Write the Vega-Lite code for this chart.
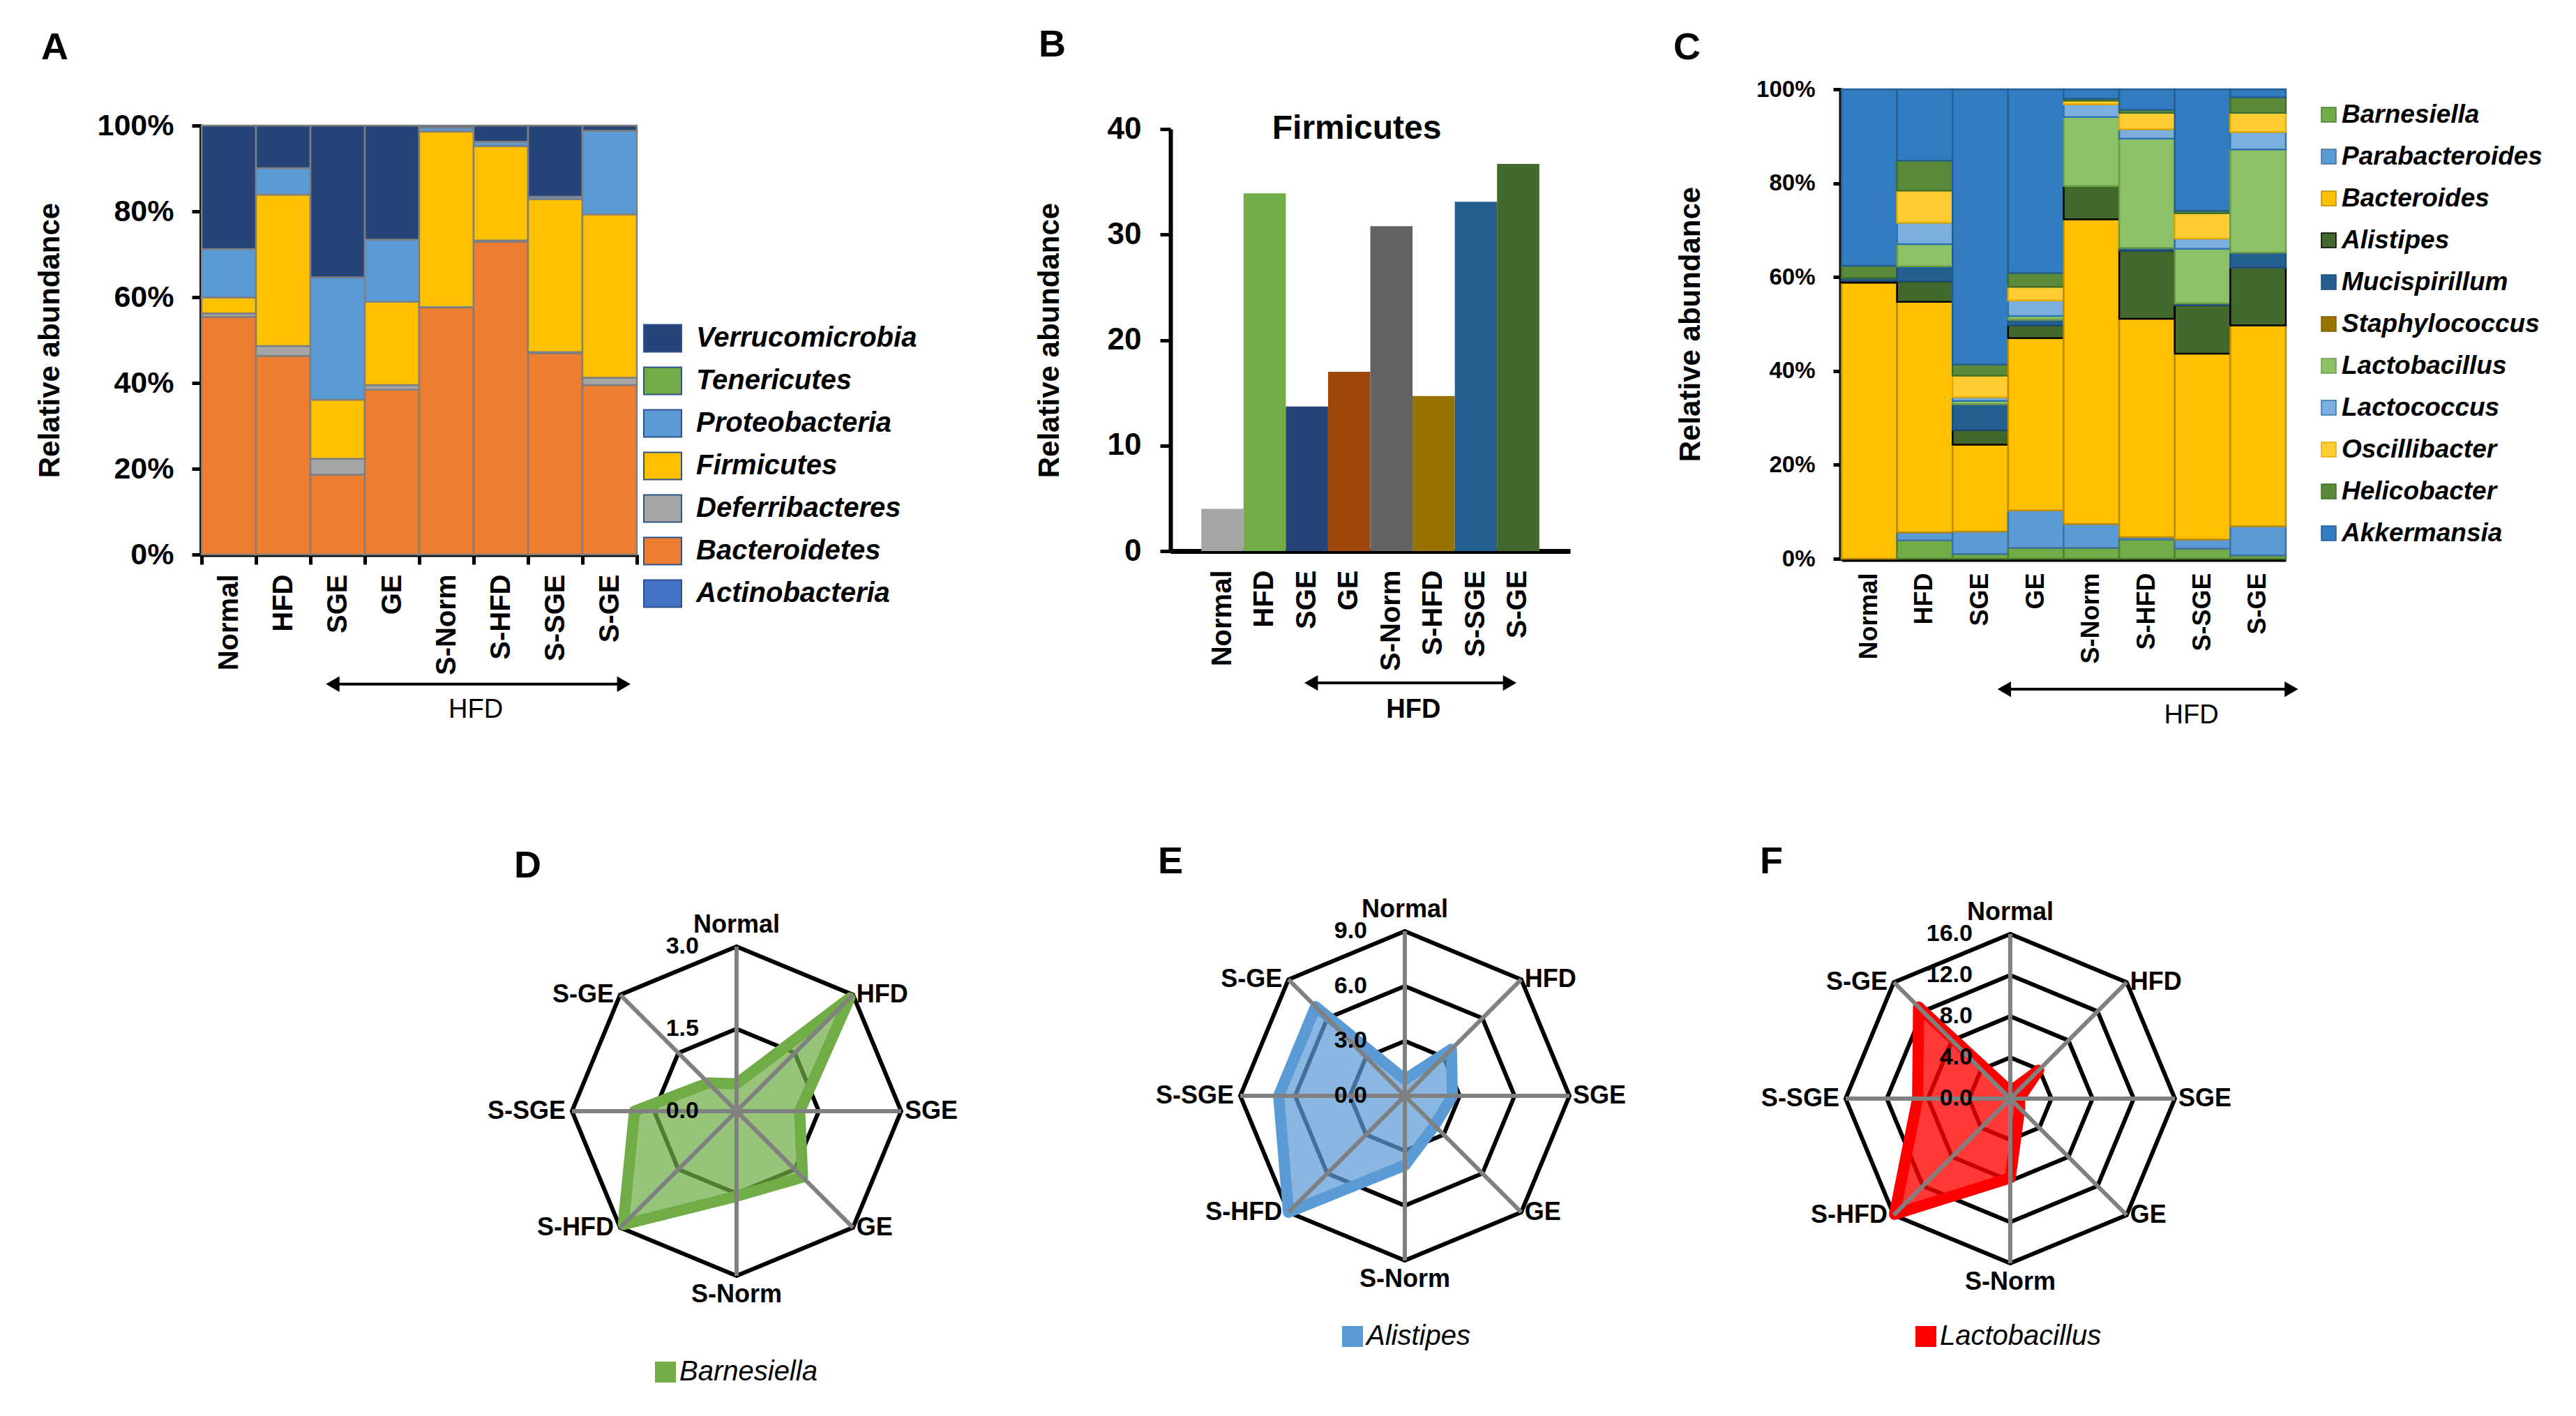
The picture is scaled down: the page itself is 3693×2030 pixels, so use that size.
{
"$schema": "https://vega.github.io/schema/vega-lite/v6.json",
"background": "white",
"padding": {"left": 50, "top": 38, "right": 0, "bottom": 0},
"config": {
  "view": {"stroke": null},
  "font": "Liberation Sans",
  "axis": {"grid": false, "domainColor": "black", "tickColor": "black", "labelColor": "black", "titleColor": "black"},
  "legend": {"labelColor": "black", "labelLimit": 800},
  "title": {"color": "black", "fontWeight": "bold"}
},
"datasets": {
  "phylum": [
    {"group":"Normal","taxon":"Bacteroidetes","value":55.4},{"group":"Normal","taxon":"Deferribacteres","value":0.8},{"group":"Normal","taxon":"Firmicutes","value":3.7},{"group":"Normal","taxon":"Proteobacteria","value":11.3},{"group":"Normal","taxon":"Verrucomicrobia","value":28.8},
    {"group":"HFD","taxon":"Bacteroidetes","value":46.3},{"group":"HFD","taxon":"Deferribacteres","value":2.3},{"group":"HFD","taxon":"Firmicutes","value":35.3},{"group":"HFD","taxon":"Proteobacteria","value":6.2},{"group":"HFD","taxon":"Verrucomicrobia","value":9.9},
    {"group":"SGE","taxon":"Bacteroidetes","value":18.6},{"group":"SGE","taxon":"Deferribacteres","value":3.7},{"group":"SGE","taxon":"Firmicutes","value":13.8},{"group":"SGE","taxon":"Proteobacteria","value":28.5},{"group":"SGE","taxon":"Verrucomicrobia","value":35.4},
    {"group":"GE","taxon":"Bacteroidetes","value":38.4},{"group":"GE","taxon":"Deferribacteres","value":1.1},{"group":"GE","taxon":"Firmicutes","value":19.4},{"group":"GE","taxon":"Proteobacteria","value":14.5},{"group":"GE","taxon":"Verrucomicrobia","value":26.6},
    {"group":"S-Norm","taxon":"Bacteroidetes","value":57.6},{"group":"S-Norm","taxon":"Deferribacteres","value":0.1},{"group":"S-Norm","taxon":"Firmicutes","value":40.9},{"group":"S-Norm","taxon":"Proteobacteria","value":0.9},{"group":"S-Norm","taxon":"Verrucomicrobia","value":0.5},
    {"group":"S-HFD","taxon":"Bacteroidetes","value":72.9},{"group":"S-HFD","taxon":"Deferribacteres","value":0.3},{"group":"S-HFD","taxon":"Firmicutes","value":22.0},{"group":"S-HFD","taxon":"Proteobacteria","value":1.0},{"group":"S-HFD","taxon":"Verrucomicrobia","value":3.8},
    {"group":"S-SGE","taxon":"Bacteroidetes","value":46.9},{"group":"S-SGE","taxon":"Deferribacteres","value":0.3},{"group":"S-SGE","taxon":"Firmicutes","value":35.6},{"group":"S-SGE","taxon":"Proteobacteria","value":0.6},{"group":"S-SGE","taxon":"Verrucomicrobia","value":16.6},
    {"group":"S-GE","taxon":"Bacteroidetes","value":39.5},{"group":"S-GE","taxon":"Deferribacteres","value":1.7},{"group":"S-GE","taxon":"Firmicutes","value":38.1},{"group":"S-GE","taxon":"Proteobacteria","value":19.5},{"group":"S-GE","taxon":"Verrucomicrobia","value":1.2}
  ],
  "firm": [
    {"group":"Normal","value":4.0},{"group":"HFD","value":33.9},{"group":"SGE","value":13.7},{"group":"GE","value":17.0},
    {"group":"S-Norm","value":30.8},{"group":"S-HFD","value":14.7},{"group":"S-SGE","value":33.1},{"group":"S-GE","value":36.7}
  ],
  "genus": [
    {"group":"Normal","taxon":"Bacteroides","value":58.8},{"group":"Normal","taxon":"Alistipes","value":0.4},{"group":"Normal","taxon":"Mucispirillum","value":0.6},{"group":"Normal","taxon":"Helicobacter","value":2.6},{"group":"Normal","taxon":"Akkermansia","value":37.6},
    {"group":"HFD","taxon":"Barnesiella","value":3.9},{"group":"HFD","taxon":"Parabacteroides","value":1.7},{"group":"HFD","taxon":"Bacteroides","value":49.1},{"group":"HFD","taxon":"Alistipes","value":4.4},{"group":"HFD","taxon":"Mucispirillum","value":3.2},{"group":"HFD","taxon":"Lactobacillus","value":4.7},{"group":"HFD","taxon":"Lactococcus","value":4.6},{"group":"HFD","taxon":"Oscillibacter","value":6.8},{"group":"HFD","taxon":"Helicobacter","value":6.4},{"group":"HFD","taxon":"Akkermansia","value":15.2},
    {"group":"SGE","taxon":"Barnesiella","value":1.0},{"group":"SGE","taxon":"Parabacteroides","value":4.8},{"group":"SGE","taxon":"Bacteroides","value":18.5},{"group":"SGE","taxon":"Alistipes","value":3.1},{"group":"SGE","taxon":"Mucispirillum","value":5.5},{"group":"SGE","taxon":"Lactobacillus","value":0.7},{"group":"SGE","taxon":"Lactococcus","value":0.8},{"group":"SGE","taxon":"Oscillibacter","value":4.6},{"group":"SGE","taxon":"Helicobacter","value":2.4},{"group":"SGE","taxon":"Akkermansia","value":58.6},
    {"group":"GE","taxon":"Barnesiella","value":2.3},{"group":"GE","taxon":"Parabacteroides","value":8.0},{"group":"GE","taxon":"Bacteroides","value":36.7},{"group":"GE","taxon":"Alistipes","value":2.7},{"group":"GE","taxon":"Mucispirillum","value":1.2},{"group":"GE","taxon":"Lactobacillus","value":0.8},{"group":"GE","taxon":"Lactococcus","value":3.3},{"group":"GE","taxon":"Oscillibacter","value":2.9},{"group":"GE","taxon":"Helicobacter","value":3.0},{"group":"GE","taxon":"Akkermansia","value":39.1},
    {"group":"S-Norm","taxon":"Barnesiella","value":2.3},{"group":"S-Norm","taxon":"Parabacteroides","value":5.1},{"group":"S-Norm","taxon":"Bacteroides","value":64.9},{"group":"S-Norm","taxon":"Alistipes","value":7.1},{"group":"S-Norm","taxon":"Lactobacillus","value":14.7},{"group":"S-Norm","taxon":"Lactococcus","value":2.7},{"group":"S-Norm","taxon":"Oscillibacter","value":0.8},{"group":"S-Norm","taxon":"Helicobacter","value":0.4},{"group":"S-Norm","taxon":"Akkermansia","value":2.0},
    {"group":"S-HFD","taxon":"Barnesiella","value":4.1},{"group":"S-HFD","taxon":"Parabacteroides","value":0.5},{"group":"S-HFD","taxon":"Bacteroides","value":46.5},{"group":"S-HFD","taxon":"Alistipes","value":14.5},{"group":"S-HFD","taxon":"Mucispirillum","value":0.6},{"group":"S-HFD","taxon":"Lactobacillus","value":23.3},{"group":"S-HFD","taxon":"Lactococcus","value":2.0},{"group":"S-HFD","taxon":"Oscillibacter","value":3.5},{"group":"S-HFD","taxon":"Helicobacter","value":0.6},{"group":"S-HFD","taxon":"Akkermansia","value":4.4},
    {"group":"S-SGE","taxon":"Barnesiella","value":2.1},{"group":"S-SGE","taxon":"Parabacteroides","value":2.0},{"group":"S-SGE","taxon":"Bacteroides","value":39.6},{"group":"S-SGE","taxon":"Alistipes","value":10.3},{"group":"S-SGE","taxon":"Mucispirillum","value":0.4},{"group":"S-SGE","taxon":"Lactobacillus","value":11.6},{"group":"S-SGE","taxon":"Lactococcus","value":2.2},{"group":"S-SGE","taxon":"Oscillibacter","value":5.4},{"group":"S-SGE","taxon":"Helicobacter","value":0.5},{"group":"S-SGE","taxon":"Akkermansia","value":25.9},
    {"group":"S-GE","taxon":"Barnesiella","value":0.7},{"group":"S-GE","taxon":"Parabacteroides","value":6.2},{"group":"S-GE","taxon":"Bacteroides","value":42.8},{"group":"S-GE","taxon":"Alistipes","value":12.3},{"group":"S-GE","taxon":"Mucispirillum","value":3.2},{"group":"S-GE","taxon":"Lactobacillus","value":22.0},{"group":"S-GE","taxon":"Lactococcus","value":3.7},{"group":"S-GE","taxon":"Oscillibacter","value":4.1},{"group":"S-GE","taxon":"Helicobacter","value":3.3},{"group":"S-GE","taxon":"Akkermansia","value":1.7}
  ],
  "barn": [
    {"taxon":"Barnesiella","group":"Normal","value":0.5},{"taxon":"Barnesiella","group":"HFD","value":2.92},{"taxon":"Barnesiella","group":"SGE","value":1.15},{"taxon":"Barnesiella","group":"GE","value":1.7},
    {"taxon":"Barnesiella","group":"S-Norm","value":1.55},{"taxon":"Barnesiella","group":"S-HFD","value":2.92},{"taxon":"Barnesiella","group":"S-SGE","value":1.86},{"taxon":"Barnesiella","group":"S-GE","value":0.73}
  ],
  "alis": [
    {"taxon":"Alistipes","group":"Normal","value":0.9},{"taxon":"Alistipes","group":"HFD","value":3.6},{"taxon":"Alistipes","group":"SGE","value":2.6},{"taxon":"Alistipes","group":"GE","value":2.3},
    {"taxon":"Alistipes","group":"S-Norm","value":3.8},{"taxon":"Alistipes","group":"S-HFD","value":9.0},{"taxon":"Alistipes","group":"S-SGE","value":6.9},{"taxon":"Alistipes","group":"S-GE","value":6.9}
  ],
  "lacto": [
    {"taxon":"Lactobacillus","group":"Normal","value":0.7},{"taxon":"Lactobacillus","group":"HFD","value":3.9},{"taxon":"Lactobacillus","group":"SGE","value":0.9},{"taxon":"Lactobacillus","group":"GE","value":1.3},
    {"taxon":"Lactobacillus","group":"S-Norm","value":7.7},{"taxon":"Lactobacillus","group":"S-HFD","value":15.9},{"taxon":"Lactobacillus","group":"S-SGE","value":9.0},{"taxon":"Lactobacillus","group":"S-GE","value":12.6}
  ],
  "hfd": [{"from":"SGE","to":"S-GE","mid":"S-HFD","mid2":"S-SGE","label":"HFD"}],
  "btitle": [{"at":"GE","label":"Firmicutes"}]
},
"resolve": {"scale": {"color": "independent", "stroke": "independent"}},
"columns": 3,
"align": "each",
"bounds": "flush",
"spacing": {"row": 400, "column": 0},
"concat": [
  {
   "width": 1389, "height": 673,
   "title": {"text": "A", "anchor": "start", "frame": "group", "fontSize": 54, "baseline": "alphabetic", "offset": 0, "dy": 11, "dx": -230},
   "layer": [
    {"data": {"name": "phylum"},
     "transform": [{"calculate": "indexof(['Actinobacteria','Bacteroidetes','Deferribacteres','Firmicutes','Proteobacteria','Tenericutes','Verrucomicrobia'], datum.taxon)", "as": "ord"}],
     "mark": {"type": "bar", "stroke": "#7F7F7F", "strokeWidth": 2.5},
     "encoding": {
      "x": {"field": "group", "type": "nominal", "scale": {"domain": ["Normal","HFD","SGE","GE","S-Norm","S-HFD","S-SGE","S-GE"], "range": [0, 624], "paddingInner": 0, "paddingOuter": 0},
            "axis": {"title": null, "labelAngle": -90, "labelAlign": "right", "labelBaseline": "middle", "labelFontSize": 40, "labelFontWeight": "bold", "labelPadding": 14, "tickBand": "extent", "tickSize": 14, "tickWidth": 5, "domainWidth": 6, "offset": -6, "labelOverlap": false}},
      "y": {"field": "value", "type": "quantitative", "stack": "normalize", "scale": {"domain": [0, 1], "range": [667, 52], "nice": false},
            "axis": {"values": [0, 0.2, 0.4, 0.6, 0.8, 1], "format": ".0%", "labelFontSize": 43, "labelFontWeight": "bold", "labelPadding": 26, "tickSize": 14, "tickWidth": 5, "domainWidth": 7, "title": "Relative abundance", "titleFontSize": 42, "titleFontWeight": "bold", "titlePadding": 46}},
      "color": {"field": "taxon", "type": "nominal",
                "scale": {"domain": ["Verrucomicrobia","Tenericutes","Proteobacteria","Firmicutes","Deferribacteres","Bacteroidetes","Actinobacteria"], "range": ["#264478","#70AD47","#5B9BD5","#FFC000","#A5A5A5","#ED7D31","#4472C4"]},
                "legend": {"orient": "none", "legendX": 633, "legendY": 329, "title": null, "padding": 0, "symbolType": "M-1,-0.72H1V0.72H-1Z", "symbolSize": 2916, "symbolStrokeColor": "#2F528F", "symbolStrokeWidth": 2, "labelFontSize": 40, "labelFontStyle": "italic", "labelFontWeight": "bold", "labelOffset": 20, "rowPadding": 9, "labelLimit": 800}},
      "order": {"field": "ord", "type": "quantitative"}
     }},
    {"data": {"name": "hfd"},
     "mark": {"type": "rule", "color": "black", "strokeWidth": 4},
     "encoding": {
      "x": {"field": "from", "type": "nominal", "bandPosition": 0.41, "scale": {"domain": ["Normal","HFD","SGE","GE","S-Norm","S-HFD","S-SGE","S-GE"], "range": [0, 624]}},
      "x2": {"field": "to", "bandPosition": 0.76},
      "y": {"datum": -0.302, "type": "quantitative", "scale": {"domain": [0, 1], "range": [667, 52], "nice": false}}
     }},
    {"data": {"name": "hfd"},
     "mark": {"type": "point", "shape": "triangle-left", "filled": true, "color": "black", "size": 500, "opacity": 1},
     "encoding": {
      "x": {"field": "from", "type": "nominal", "bandPosition": 0.41, "scale": {"domain": ["Normal","HFD","SGE","GE","S-Norm","S-HFD","S-SGE","S-GE"], "range": [0, 624]}},
      "y": {"datum": -0.302, "type": "quantitative", "scale": {"domain": [0, 1], "range": [667, 52], "nice": false}}
     }},
    {"data": {"name": "hfd"},
     "mark": {"type": "point", "shape": "triangle-right", "filled": true, "color": "black", "size": 500, "opacity": 1},
     "encoding": {
      "x": {"field": "to", "type": "nominal", "bandPosition": 0.76, "scale": {"domain": ["Normal","HFD","SGE","GE","S-Norm","S-HFD","S-SGE","S-GE"], "range": [0, 624]}},
      "y": {"datum": -0.302, "type": "quantitative", "scale": {"domain": [0, 1], "range": [667, 52], "nice": false}}
     }},
    {"data": {"name": "hfd"},
     "mark": {"type": "text", "fontSize": 38, "baseline": "middle", "align": "center"},
     "encoding": {
      "x": {"field": "mid", "type": "nominal", "bandPosition": 0.04, "scale": {"domain": ["Normal","HFD","SGE","GE","S-Norm","S-HFD","S-SGE","S-GE"], "range": [0, 624]}},
      "y": {"datum": -0.363, "type": "quantitative", "scale": {"domain": [0, 1], "range": [667, 52], "nice": false}},
      "text": {"field": "label"}
     }}
   ]
  },
  {
   "width": 962, "height": 673,
   "title": {"text": "B", "anchor": "start", "frame": "group", "fontSize": 54, "baseline": "alphabetic", "offset": 0, "dy": 7, "dx": -189},
   "layer": [
    {"data": {"name": "firm"},
     "mark": {"type": "bar"},
     "encoding": {
      "x": {"field": "group", "type": "nominal", "scale": {"domain": ["Normal","HFD","SGE","GE","S-Norm","S-HFD","S-SGE","S-GE"], "range": [0, 573], "paddingInner": 0, "paddingOuter": 0.73},
            "axis": {"title": null, "labelAngle": -90, "labelAlign": "right", "labelBaseline": "middle", "labelFontSize": 40, "labelFontWeight": "bold", "labelPadding": 27, "ticks": false, "domainWidth": 7, "offset": -11, "labelOverlap": false}},
      "y": {"field": "value", "type": "quantitative", "scale": {"domain": [0, 40], "range": [662, 57], "nice": false},
            "axis": {"values": [0, 10, 20, 30, 40], "labelFontSize": 44, "labelFontWeight": "bold", "labelPadding": 27, "tickSize": 15, "tickWidth": 5, "domainWidth": 6, "title": "Relative abundance", "titleFontSize": 42, "titleFontWeight": "bold", "titlePadding": 61}},
      "color": {"field": "group", "type": "nominal", "scale": {"domain": ["Normal","HFD","SGE","GE","S-Norm","S-HFD","S-SGE","S-GE"], "range": ["#A5A5A5","#70AD47","#264478","#9E480E","#636363","#997300","#255E91","#43682B"]}, "legend": null}
     }},
    {"data": {"name": "btitle"},
     "mark": {"type": "text", "fontSize": 48, "fontWeight": "bold", "baseline": "middle", "align": "center"},
     "encoding": {
      "x": {"field": "at", "type": "nominal", "bandPosition": 0.68, "scale": {"domain": ["Normal","HFD","SGE","GE","S-Norm","S-HFD","S-SGE","S-GE"], "range": [0, 573]}},
      "y": {"datum": 40, "type": "quantitative", "scale": {"domain": [0, 40], "range": [662, 57], "nice": false}},
      "text": {"field": "label"}
     }},
    {"data": {"name": "hfd"},
     "mark": {"type": "rule", "color": "black", "strokeWidth": 4},
     "encoding": {
      "x": {"field": "from", "type": "nominal", "bandPosition": 0.6, "scale": {"domain": ["Normal","HFD","SGE","GE","S-Norm","S-HFD","S-SGE","S-GE"], "range": [0, 573]}},
      "x2": {"field": "to", "bandPosition": 0.3},
      "y": {"datum": -12.5, "type": "quantitative", "scale": {"domain": [0, 40], "range": [662, 57], "nice": false}}
     }},
    {"data": {"name": "hfd"},
     "mark": {"type": "point", "shape": "triangle-left", "filled": true, "color": "black", "size": 500, "opacity": 1},
     "encoding": {
      "x": {"field": "from", "type": "nominal", "bandPosition": 0.6, "scale": {"domain": ["Normal","HFD","SGE","GE","S-Norm","S-HFD","S-SGE","S-GE"], "range": [0, 573]}},
      "y": {"datum": -12.5, "type": "quantitative", "scale": {"domain": [0, 40], "range": [662, 57], "nice": false}}
     }},
    {"data": {"name": "hfd"},
     "mark": {"type": "point", "shape": "triangle-right", "filled": true, "color": "black", "size": 500, "opacity": 1},
     "encoding": {
      "x": {"field": "to", "type": "nominal", "bandPosition": 0.3, "scale": {"domain": ["Normal","HFD","SGE","GE","S-Norm","S-HFD","S-SGE","S-GE"], "range": [0, 573]}},
      "y": {"datum": -12.5, "type": "quantitative", "scale": {"domain": [0, 40], "range": [662, 57], "nice": false}}
     }},
    {"data": {"name": "hfd"},
     "mark": {"type": "text", "fontSize": 38, "fontWeight": "bold", "baseline": "middle", "align": "center"},
     "encoding": {
      "x": {"field": "mid", "type": "nominal", "bandPosition": 0.02, "scale": {"domain": ["Normal","HFD","SGE","GE","S-Norm","S-HFD","S-SGE","S-GE"], "range": [0, 573]}},
      "y": {"datum": -15.1, "type": "quantitative", "scale": {"domain": [0, 40], "range": [662, 57], "nice": false}},
      "text": {"field": "label"}
     }}
   ]
  },
  {
   "width": 637, "height": 673,
   "title": {"text": "C", "anchor": "start", "frame": "group", "fontSize": 54, "baseline": "alphabetic", "offset": 0, "dy": 27, "dx": -241},
   "layer": [
    {"data": {"name": "genus"},
     "transform": [{"calculate": "indexof(['Barnesiella','Parabacteroides','Bacteroides','Alistipes','Mucispirillum','Staphylococcus','Lactobacillus','Lactococcus','Oscillibacter','Helicobacter','Akkermansia'], datum.taxon)", "as": "ord"}],
     "mark": {"type": "bar", "strokeWidth": 2.5},
     "encoding": {
      "x": {"field": "group", "type": "nominal", "scale": {"domain": ["Normal","HFD","SGE","GE","S-Norm","S-HFD","S-SGE","S-GE"], "paddingInner": 0, "paddingOuter": 0},
            "axis": {"title": null, "labelAngle": -90, "labelAlign": "right", "labelBaseline": "middle", "labelFontSize": 36, "labelFontWeight": "bold", "labelPadding": 20, "ticks": false, "domainWidth": 8, "labelOverlap": false}},
      "y": {"field": "value", "type": "quantitative", "stack": "normalize", "scale": {"domain": [0, 1], "nice": false},
            "axis": {"values": [0, 0.2, 0.4, 0.6, 0.8, 1], "format": ".0%", "labelFontSize": 33, "labelFontWeight": "bold", "labelPadding": 26, "tickSize": 12, "tickWidth": 5, "domainWidth": 8, "title": "Relative abundance", "titleFontSize": 42, "titleFontWeight": "bold", "titlePadding": 72}},
      "color": {"field": "taxon", "type": "nominal",
                "scale": {"domain": ["Barnesiella","Parabacteroides","Bacteroides","Alistipes","Mucispirillum","Staphylococcus","Lactobacillus","Lactococcus","Oscillibacter","Helicobacter","Akkermansia"],
                          "range": ["#70AD47","#5B9BD5","#FFC000","#43682B","#255E91","#997300","#8CC168","#7CAFDD","#FFCD33","#5B8A3A","#327DC2"]},
                "legend": {"orient": "none", "legendX": 680, "legendY": 18, "title": null, "padding": 0, "symbolType": "square", "symbolSize": 441, "symbolStrokeColor": "#404040", "symbolStrokeWidth": 1.5, "labelFontSize": 37, "labelFontStyle": "italic", "labelFontWeight": "bold", "labelOffset": 0, "rowPadding": 22, "labelLimit": 800}},
      "stroke": {"field": "taxon", "type": "nominal",
                 "scale": {"domain": ["Barnesiella","Parabacteroides","Bacteroides","Alistipes","Mucispirillum","Staphylococcus","Lactobacillus","Lactococcus","Oscillibacter","Helicobacter","Akkermansia"],
                           "range": ["#507E32","#41719C","#BC8C00","#000000","#1F4E79","#7F6000","#6A9B4A","#2E75B6","#E6AC00","#3F6F2A","#255E91"]},
                 "legend": null},
      "order": {"field": "ord", "type": "quantitative"}
     }},
    {"data": {"name": "hfd"},
     "mark": {"type": "rule", "color": "black", "strokeWidth": 4},
     "encoding": {
      "x": {"field": "from", "type": "nominal", "bandPosition": 0.93, "scale": {"domain": ["Normal","HFD","SGE","GE","S-Norm","S-HFD","S-SGE","S-GE"]}},
      "x2": {"field": "to", "bandPosition": 1.1},
      "y": {"datum": -0.278, "type": "quantitative", "scale": {"domain": [0, 1], "nice": false}}
     }},
    {"data": {"name": "hfd"},
     "mark": {"type": "point", "shape": "triangle-left", "filled": true, "color": "black", "size": 500, "opacity": 1},
     "encoding": {
      "x": {"field": "from", "type": "nominal", "bandPosition": 0.93, "scale": {"domain": ["Normal","HFD","SGE","GE","S-Norm","S-HFD","S-SGE","S-GE"]}},
      "y": {"datum": -0.278, "type": "quantitative", "scale": {"domain": [0, 1], "nice": false}}
     }},
    {"data": {"name": "hfd"},
     "mark": {"type": "point", "shape": "triangle-right", "filled": true, "color": "black", "size": 500, "opacity": 1},
     "encoding": {
      "x": {"field": "to", "type": "nominal", "bandPosition": 1.1, "scale": {"domain": ["Normal","HFD","SGE","GE","S-Norm","S-HFD","S-SGE","S-GE"]}},
      "y": {"datum": -0.278, "type": "quantitative", "scale": {"domain": [0, 1], "nice": false}}
     }},
    {"data": {"name": "hfd"},
     "mark": {"type": "text", "fontSize": 38, "baseline": "middle", "align": "center"},
     "encoding": {
      "x": {"field": "mid2", "type": "nominal", "bandPosition": 0.3, "scale": {"domain": ["Normal","HFD","SGE","GE","S-Norm","S-HFD","S-SGE","S-GE"]}},
      "y": {"datum": -0.334, "type": "quantitative", "scale": {"domain": [0, 1], "nice": false}},
      "text": {"field": "label"}
     }}
   ]
  },
  {
   "width": 1389, "height": 708,
   "title": {"text": "D", "anchor": "start", "frame": "group", "fontSize": 54, "baseline": "alphabetic", "offset": 0, "dy": 111, "dx": 448},
   "encoding": {
    "x": {"field": "px", "type": "quantitative", "scale": {"domain": [-3.25, 2.636], "nice": false, "zero": false}, "axis": null},
    "y": {"field": "py", "type": "quantitative", "scale": {"domain": [-1.339, 1.661], "nice": false, "zero": false}, "axis": null}
   },
   "layer": [
    {"data": {"name": "barn"},
     "transform": [{"calculate": "indexof(['Normal','HFD','SGE','GE','S-Norm','S-HFD','S-SGE','S-GE'], datum.group)", "as": "k"}, {"calculate": "[0.5, 1]", "as": "lv"}, {"flatten": ["lv"]}, {"calculate": "datum.lv * sin(datum.k * PI / 4)", "as": "px"}, {"calculate": "datum.lv * cos(datum.k * PI / 4)", "as": "py"}],
     "mark": {"type": "line", "interpolate": "linear-closed", "color": "black", "strokeWidth": 6},
     "encoding": {"detail": {"field": "lv", "type": "nominal"}, "order": {"field": "k", "type": "quantitative"}}},
    {"data": {"name": "barn"},
     "transform": [{"calculate": "indexof(['Normal','HFD','SGE','GE','S-Norm','S-HFD','S-SGE','S-GE'], datum.group)", "as": "k"}, {"calculate": "datum.value / 3 * sin(datum.k * PI / 4)", "as": "px"}, {"calculate": "datum.value / 3 * cos(datum.k * PI / 4)", "as": "py"}],
     "mark": {"type": "line", "interpolate": "linear-closed", "filled": true, "fillOpacity": 0.72},
     "encoding": {"order": {"field": "k", "type": "quantitative"},
      "color": {"field": "taxon", "type": "nominal", "scale": {"range": ["#70AD47"]},
       "legend": {"orient": "none", "legendX": 645, "legendY": 746, "title": null, "padding": 0, "symbolType": "square", "symbolSize": 900, "symbolOpacity": 1, "symbolStrokeWidth": 0, "labelFontSize": 40, "labelFontStyle": "italic", "labelOffset": 0, "labelLimit": 800}}}},
    {"data": {"name": "barn"},
     "transform": [{"calculate": "indexof(['Normal','HFD','SGE','GE','S-Norm','S-HFD','S-SGE','S-GE'], datum.group)", "as": "k"}, {"calculate": "datum.value / 3 * sin(datum.k * PI / 4)", "as": "px"}, {"calculate": "datum.value / 3 * cos(datum.k * PI / 4)", "as": "py"}],
     "mark": {"type": "line", "interpolate": "linear-closed", "color": "#70AD47", "strokeWidth": 16, "strokeJoin": "round"},
     "encoding": {"order": {"field": "k", "type": "quantitative"}}},
    {"data": {"name": "barn"},
     "transform": [{"calculate": "indexof(['Normal','HFD','SGE','GE','S-Norm','S-HFD','S-SGE','S-GE'], datum.group)", "as": "k"}, {"calculate": "0", "as": "px"}, {"calculate": "0", "as": "py"}, {"calculate": "sin(datum.k * PI / 4)", "as": "ex"}, {"calculate": "cos(datum.k * PI / 4)", "as": "ey"}],
     "mark": {"type": "rule", "color": "#808080", "strokeWidth": 6},
     "encoding": {"x2": {"field": "ex"}, "y2": {"field": "ey"}}},
    {"data": {"name": "barn"},
     "transform": [{"calculate": "indexof(['Normal','HFD','SGE','GE','S-Norm','S-HFD','S-SGE','S-GE'], datum.group)", "as": "k"}, {"filter": "datum.k >= 1 && datum.k <= 3"}, {"calculate": "sin(datum.k * PI / 4)", "as": "px"}, {"calculate": "cos(datum.k * PI / 4)", "as": "py"}],
     "mark": {"type": "text", "align": "left", "baseline": "middle", "dx": 5, "fontSize": 36, "fontWeight": "bold"},
     "encoding": {"text": {"field": "group"}}},
    {"data": {"name": "barn"},
     "transform": [{"calculate": "indexof(['Normal','HFD','SGE','GE','S-Norm','S-HFD','S-SGE','S-GE'], datum.group)", "as": "k"}, {"filter": "datum.k >= 5"}, {"calculate": "sin(datum.k * PI / 4)", "as": "px"}, {"calculate": "cos(datum.k * PI / 4)", "as": "py"}],
     "mark": {"type": "text", "align": "right", "baseline": "middle", "dx": -9, "fontSize": 36, "fontWeight": "bold"},
     "encoding": {"text": {"field": "group"}}},
    {"data": {"name": "barn"},
     "transform": [{"calculate": "indexof(['Normal','HFD','SGE','GE','S-Norm','S-HFD','S-SGE','S-GE'], datum.group)", "as": "k"}, {"filter": "datum.k == 0"}, {"calculate": "0", "as": "px"}, {"calculate": "1", "as": "py"}],
     "mark": {"type": "text", "align": "center", "baseline": "bottom", "dy": -12, "fontSize": 36, "fontWeight": "bold"},
     "encoding": {"text": {"field": "group"}}},
    {"data": {"name": "barn"},
     "transform": [{"calculate": "indexof(['Normal','HFD','SGE','GE','S-Norm','S-HFD','S-SGE','S-GE'], datum.group)", "as": "k"}, {"filter": "datum.k == 4"}, {"calculate": "0", "as": "px"}, {"calculate": "-1", "as": "py"}],
     "mark": {"type": "text", "align": "center", "baseline": "top", "dy": 10, "fontSize": 36, "fontWeight": "bold"},
     "encoding": {"text": {"field": "group"}}},
    {"data": {"values": [{"lab": 0}, {"lab": 1.5}, {"lab": 3}]},
     "transform": [{"calculate": "0", "as": "px"}, {"calculate": "datum.lab / 3", "as": "py"}],
     "mark": {"type": "text", "align": "right", "baseline": "middle", "dx": -54, "fontSize": 34, "fontWeight": "bold"},
     "encoding": {"text": {"field": "lab", "type": "quantitative", "format": ".1f"}}}
   ]
  },
  {
   "width": 962, "height": 708,
   "title": {"text": "E", "anchor": "start", "frame": "group", "fontSize": 54, "baseline": "alphabetic", "offset": 0, "dy": 105, "dx": -18},
   "encoding": {
    "x": {"field": "px", "type": "quantitative", "scale": {"domain": [-1.424, 2.653], "nice": false, "zero": false}, "axis": null},
    "y": {"field": "py", "type": "quantitative", "scale": {"domain": [-1.432, 1.568], "nice": false, "zero": false}, "axis": null}
   },
   "layer": [
    {"data": {"name": "alis"},
     "transform": [{"calculate": "indexof(['Normal','HFD','SGE','GE','S-Norm','S-HFD','S-SGE','S-GE'], datum.group)", "as": "k"}, {"calculate": "[1/3, 2/3, 1]", "as": "lv"}, {"flatten": ["lv"]}, {"calculate": "datum.lv * sin(datum.k * PI / 4)", "as": "px"}, {"calculate": "datum.lv * cos(datum.k * PI / 4)", "as": "py"}],
     "mark": {"type": "line", "interpolate": "linear-closed", "color": "black", "strokeWidth": 6},
     "encoding": {"detail": {"field": "lv", "type": "nominal"}, "order": {"field": "k", "type": "quantitative"}}},
    {"data": {"name": "alis"},
     "transform": [{"calculate": "indexof(['Normal','HFD','SGE','GE','S-Norm','S-HFD','S-SGE','S-GE'], datum.group)", "as": "k"}, {"calculate": "datum.value / 9 * sin(datum.k * PI / 4)", "as": "px"}, {"calculate": "datum.value / 9 * cos(datum.k * PI / 4)", "as": "py"}],
     "mark": {"type": "line", "interpolate": "linear-closed", "filled": true, "fillOpacity": 0.72},
     "encoding": {"order": {"field": "k", "type": "quantitative"},
      "color": {"field": "taxon", "type": "nominal", "scale": {"range": ["#5B9BD5"]},
       "legend": {"orient": "none", "legendX": 241, "legendY": 695, "title": null, "padding": 0, "symbolType": "square", "symbolSize": 900, "symbolOpacity": 1, "symbolStrokeWidth": 0, "labelFontSize": 40, "labelFontStyle": "italic", "labelOffset": 0, "labelLimit": 800}}}},
    {"data": {"name": "alis"},
     "transform": [{"calculate": "indexof(['Normal','HFD','SGE','GE','S-Norm','S-HFD','S-SGE','S-GE'], datum.group)", "as": "k"}, {"calculate": "datum.value / 9 * sin(datum.k * PI / 4)", "as": "px"}, {"calculate": "datum.value / 9 * cos(datum.k * PI / 4)", "as": "py"}],
     "mark": {"type": "line", "interpolate": "linear-closed", "color": "#5B9BD5", "strokeWidth": 16, "strokeJoin": "round"},
     "encoding": {"order": {"field": "k", "type": "quantitative"}}},
    {"data": {"name": "alis"},
     "transform": [{"calculate": "indexof(['Normal','HFD','SGE','GE','S-Norm','S-HFD','S-SGE','S-GE'], datum.group)", "as": "k"}, {"calculate": "0", "as": "px"}, {"calculate": "0", "as": "py"}, {"calculate": "sin(datum.k * PI / 4)", "as": "ex"}, {"calculate": "cos(datum.k * PI / 4)", "as": "ey"}],
     "mark": {"type": "rule", "color": "#808080", "strokeWidth": 6},
     "encoding": {"x2": {"field": "ex"}, "y2": {"field": "ey"}}},
    {"data": {"name": "alis"},
     "transform": [{"calculate": "indexof(['Normal','HFD','SGE','GE','S-Norm','S-HFD','S-SGE','S-GE'], datum.group)", "as": "k"}, {"filter": "datum.k >= 1 && datum.k <= 3"}, {"calculate": "sin(datum.k * PI / 4)", "as": "px"}, {"calculate": "cos(datum.k * PI / 4)", "as": "py"}],
     "mark": {"type": "text", "align": "left", "baseline": "middle", "dx": 5, "fontSize": 36, "fontWeight": "bold"},
     "encoding": {"text": {"field": "group"}}},
    {"data": {"name": "alis"},
     "transform": [{"calculate": "indexof(['Normal','HFD','SGE','GE','S-Norm','S-HFD','S-SGE','S-GE'], datum.group)", "as": "k"}, {"filter": "datum.k >= 5"}, {"calculate": "sin(datum.k * PI / 4)", "as": "px"}, {"calculate": "cos(datum.k * PI / 4)", "as": "py"}],
     "mark": {"type": "text", "align": "right", "baseline": "middle", "dx": -9, "fontSize": 36, "fontWeight": "bold"},
     "encoding": {"text": {"field": "group"}}},
    {"data": {"name": "alis"},
     "transform": [{"calculate": "indexof(['Normal','HFD','SGE','GE','S-Norm','S-HFD','S-SGE','S-GE'], datum.group)", "as": "k"}, {"filter": "datum.k == 0"}, {"calculate": "0", "as": "px"}, {"calculate": "1", "as": "py"}],
     "mark": {"type": "text", "align": "center", "baseline": "bottom", "dy": -12, "fontSize": 36, "fontWeight": "bold"},
     "encoding": {"text": {"field": "group"}}},
    {"data": {"name": "alis"},
     "transform": [{"calculate": "indexof(['Normal','HFD','SGE','GE','S-Norm','S-HFD','S-SGE','S-GE'], datum.group)", "as": "k"}, {"filter": "datum.k == 4"}, {"calculate": "0", "as": "px"}, {"calculate": "-1", "as": "py"}],
     "mark": {"type": "text", "align": "center", "baseline": "top", "dy": 10, "fontSize": 36, "fontWeight": "bold"},
     "encoding": {"text": {"field": "group"}}},
    {"data": {"values": [{"lab": 0}, {"lab": 3}, {"lab": 6}, {"lab": 9}]},
     "transform": [{"calculate": "0", "as": "px"}, {"calculate": "datum.lab / 9", "as": "py"}],
     "mark": {"type": "text", "align": "right", "baseline": "middle", "dx": -54, "fontSize": 34, "fontWeight": "bold"},
     "encoding": {"text": {"field": "lab", "type": "quantitative", "format": ".1f"}}}
   ]
  },
  {
   "width": 637, "height": 708,
   "title": {"text": "F", "anchor": "start", "frame": "group", "fontSize": 54, "baseline": "alphabetic", "offset": 0, "dy": 105, "dx": -117},
   "encoding": {
    "x": {"field": "px", "type": "quantitative", "scale": {"domain": [-1.025, 1.674], "nice": false, "zero": false}, "axis": null},
    "y": {"field": "py", "type": "quantitative", "scale": {"domain": [-1.415, 1.585], "nice": false, "zero": false}, "axis": null}
   },
   "layer": [
    {"data": {"name": "lacto"},
     "transform": [{"calculate": "indexof(['Normal','HFD','SGE','GE','S-Norm','S-HFD','S-SGE','S-GE'], datum.group)", "as": "k"}, {"calculate": "[0.25, 0.5, 0.75, 1]", "as": "lv"}, {"flatten": ["lv"]}, {"calculate": "datum.lv * sin(datum.k * PI / 4)", "as": "px"}, {"calculate": "datum.lv * cos(datum.k * PI / 4)", "as": "py"}],
     "mark": {"type": "line", "interpolate": "linear-closed", "color": "black", "strokeWidth": 6},
     "encoding": {"detail": {"field": "lv", "type": "nominal"}, "order": {"field": "k", "type": "quantitative"}}},
    {"data": {"name": "lacto"},
     "transform": [{"calculate": "indexof(['Normal','HFD','SGE','GE','S-Norm','S-HFD','S-SGE','S-GE'], datum.group)", "as": "k"}, {"calculate": "datum.value / 16 * sin(datum.k * PI / 4)", "as": "px"}, {"calculate": "datum.value / 16 * cos(datum.k * PI / 4)", "as": "py"}],
     "mark": {"type": "line", "interpolate": "linear-closed", "filled": true, "fillOpacity": 0.78},
     "encoding": {"order": {"field": "k", "type": "quantitative"},
      "color": {"field": "taxon", "type": "nominal", "scale": {"range": ["#FF0000"]},
       "legend": {"orient": "none", "legendX": 101, "legendY": 695, "title": null, "padding": 0, "symbolType": "square", "symbolSize": 900, "symbolOpacity": 1, "symbolStrokeWidth": 0, "labelFontSize": 40, "labelFontStyle": "italic", "labelOffset": 0, "labelLimit": 800}}}},
    {"data": {"name": "lacto"},
     "transform": [{"calculate": "indexof(['Normal','HFD','SGE','GE','S-Norm','S-HFD','S-SGE','S-GE'], datum.group)", "as": "k"}, {"calculate": "datum.value / 16 * sin(datum.k * PI / 4)", "as": "px"}, {"calculate": "datum.value / 16 * cos(datum.k * PI / 4)", "as": "py"}],
     "mark": {"type": "line", "interpolate": "linear-closed", "color": "#FF0000", "strokeWidth": 16, "strokeJoin": "round"},
     "encoding": {"order": {"field": "k", "type": "quantitative"}}},
    {"data": {"name": "lacto"},
     "transform": [{"calculate": "indexof(['Normal','HFD','SGE','GE','S-Norm','S-HFD','S-SGE','S-GE'], datum.group)", "as": "k"}, {"calculate": "0", "as": "px"}, {"calculate": "0", "as": "py"}, {"calculate": "sin(datum.k * PI / 4)", "as": "ex"}, {"calculate": "cos(datum.k * PI / 4)", "as": "ey"}],
     "mark": {"type": "rule", "color": "#808080", "strokeWidth": 6},
     "encoding": {"x2": {"field": "ex"}, "y2": {"field": "ey"}}},
    {"data": {"name": "lacto"},
     "transform": [{"calculate": "indexof(['Normal','HFD','SGE','GE','S-Norm','S-HFD','S-SGE','S-GE'], datum.group)", "as": "k"}, {"filter": "datum.k >= 1 && datum.k <= 3"}, {"calculate": "sin(datum.k * PI / 4)", "as": "px"}, {"calculate": "cos(datum.k * PI / 4)", "as": "py"}],
     "mark": {"type": "text", "align": "left", "baseline": "middle", "dx": 5, "fontSize": 36, "fontWeight": "bold"},
     "encoding": {"text": {"field": "group"}}},
    {"data": {"name": "lacto"},
     "transform": [{"calculate": "indexof(['Normal','HFD','SGE','GE','S-Norm','S-HFD','S-SGE','S-GE'], datum.group)", "as": "k"}, {"filter": "datum.k >= 5"}, {"calculate": "sin(datum.k * PI / 4)", "as": "px"}, {"calculate": "cos(datum.k * PI / 4)", "as": "py"}],
     "mark": {"type": "text", "align": "right", "baseline": "middle", "dx": -9, "fontSize": 36, "fontWeight": "bold"},
     "encoding": {"text": {"field": "group"}}},
    {"data": {"name": "lacto"},
     "transform": [{"calculate": "indexof(['Normal','HFD','SGE','GE','S-Norm','S-HFD','S-SGE','S-GE'], datum.group)", "as": "k"}, {"filter": "datum.k == 0"}, {"calculate": "0", "as": "px"}, {"calculate": "1", "as": "py"}],
     "mark": {"type": "text", "align": "center", "baseline": "bottom", "dy": -12, "fontSize": 36, "fontWeight": "bold"},
     "encoding": {"text": {"field": "group"}}},
    {"data": {"name": "lacto"},
     "transform": [{"calculate": "indexof(['Normal','HFD','SGE','GE','S-Norm','S-HFD','S-SGE','S-GE'], datum.group)", "as": "k"}, {"filter": "datum.k == 4"}, {"calculate": "0", "as": "px"}, {"calculate": "-1", "as": "py"}],
     "mark": {"type": "text", "align": "center", "baseline": "top", "dy": 10, "fontSize": 36, "fontWeight": "bold"},
     "encoding": {"text": {"field": "group"}}},
    {"data": {"values": [{"lab": 0}, {"lab": 4}, {"lab": 8}, {"lab": 12}, {"lab": 16}]},
     "transform": [{"calculate": "0", "as": "px"}, {"calculate": "datum.lab / 16", "as": "py"}],
     "mark": {"type": "text", "align": "right", "baseline": "middle", "dx": -54, "fontSize": 34, "fontWeight": "bold"},
     "encoding": {"text": {"field": "lab", "type": "quantitative", "format": ".1f"}}}
   ]
  }
]
}
